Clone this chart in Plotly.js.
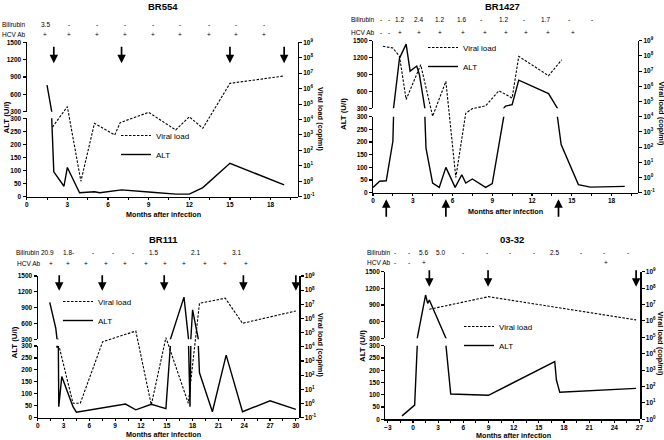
<!DOCTYPE html>
<html><head><meta charset="utf-8">
<script src="https://cdn.plot.ly/plotly-3.0.1.min.js"></script>
<style>html,body{margin:0;padding:0;background:#fff}#chart{width:664px;height:440px}</style>
</head><body><div id="chart"></div>
<script>
// ---------------- DATA ----------------
// BR554
const br554AltMonths = [1.5, 2, 2.75, 3, 3.9, 5, 5.4, 7, 9, 11, 12, 13, 15, 19];
const br554Alt       = [760, 95, 40, 112, 15, 19, 15, 26, 18, 10, 10, 35, 128, 45];
const br554VlMonths  = [1.9, 3, 4, 5, 6.5, 6.9, 9, 11, 12, 13, 15, 19];
const br554Vl        = [3.2e3, 6.8e4, 1, 5.6e3, 1e3, 6.3e3, 2.9e4, 2.1e3, 1.5e4, 2.7e3, 2.2e6, 6.6e6];
const br554ArrowMonths = [2, 7, 15, 19];
const br554BiliMonths = [1.36, 3.13, 5.18, 7.22, 9.3, 11.34, 13.44, 15.48, 17.5];
const br554Bili = ['3.5', '-', '-', '-', '-', '-', '-', '-', '-'];
const br554HcvMonths = [1.36, 3.13, 5.18, 7.22, 9.3, 11.34, 13.44, 15.48, 17.5];
const br554Hcv = ['+', '+', '+', '+', '+', '+', '+', '+', '+'];

// BR1427
const br1427AltMonths = [0, 0.5, 1, 1.5, 2, 2.5, 2.8, 3.3, 3.5, 4, 4.5, 5, 5.5, 6.2, 6.7, 7, 7.5, 8.5, 9, 10, 10.5, 11, 13.25, 14.2, 15.5, 16.4, 19];
const br1427Alt       = [21, 45, 47, 203, 1190, 1440, 960, 1050, 900, 176, 38, 21, 100, 21, 71, 38, 54, 21, 36, 340, 365, 800, 560, 190, 32, 22, 25];
const br1427VlMonths  = [0.75, 1.5, 2.0, 2.5, 3.6, 4.5, 5.5, 6.25, 7.0, 7.5, 8.5, 9.5, 10.5, 11, 13.25, 14.25];
const br1427Vl        = [4.3e8, 3.3e8, 9.3e7, 1.35e5, 2.6e7, 1.07e4, 2.1e6, 1.0, 1.7e4, 3.4e4, 5.2e4, 5.1e5, 1.7e5, 9.3e7, 5.0e6, 5.6e7];
const br1427ArrowMonths = [1, 5.5, 14];
const br1427BiliMonths = [0.58, 1.19, 2.03, 3.47, 4.99, 6.66, 8.18, 9.87, 11.4, 13.0, 14.8, 16.5];
const br1427Bili = ['-', '-', '1.2', '2.4', '1.2', '1.6', '-', '1.2', '-', '1.7', '-', '-'];
const br1427HcvMonths = [0.58, 1.19, 2.03, 3.47, 5.06, 6.78, 8.43, 10.05, 11.57, 13.24, 15.06];
const br1427Hcv = ['-', '-', '+', '+', '+', '+', '+', '+', '+', '+', '+'];

// BR111
const br111AltMonths = [1.4, 2.1, 2.25, 2.4, 2.45, 2.8, 4.1, 4.5, 10.2, 11.4, 13.2, 14.9, 17, 17.7, 18, 18.8, 20.3, 21.9, 23.8, 27, 30];
const br111Alt       = [1000, 510, 296, 298, 46, 172, 46, 23, 57, 33, 56, 38, 1100, 46, 860, 188, 25, 262, 25, 71, 35];
const br111VlMonths  = [2.2, 2.5, 4.1, 4.95, 7.55, 11.4, 13.2, 14.9, 17.5, 18.8, 21.8, 23.8, 30];
const br111Vl        = [1.15e4, 1.0e4, 1.05, 1.05, 2.3e4, 1.3e5, 0.8, 4.5e4, 1.05, 1.2e7, 2.7e7, 4.6e5, 3.4e6];
const br111ArrowMonths = [2.5, 7.5, 14.7, 23.9, 30];
const br111BiliMonths = [1.16, 3.56, 6.47, 8.8, 11.1, 13.5, 18.3, 23.1];
const br111Bili = ['20.9', '1.8-', '-', '-', '-', '1.5', '2.1', '3.1'];
const br111HcvMonths = [1.51, 3.56, 5.62, 7.94, 10.15, 12.55, 14.8, 17.05, 19.45, 21.8, 24.2];
const br111Hcv = ['+', '+', '+', '+', '+', '+', '+', '+', '+', '+', '+'];

// 03-32
const p0332AltMonths = [-1.3, 0.2, 1.5, 1.75, 1.95, 4.5, 9, 16.9, 17.1, 17.5, 26.6];
const p0332Alt       = [14, 58, 1080, 930, 990, 103, 98, 235, 160, 110, 126];
const p0332VlMonths  = [1.95, 9, 26.6];
const p0332Vl        = [5.1e6, 3.0e7, 1.15e6];
const p0332ArrowMonths = [1.95, 8.95, 26.6];
const p0332BiliMonths = [-2.1, -0.44, 1.27, 3.27, 5.98, 8.84, 11.6, 14.4, 16.9, 20.0, 22.8, 25.6];
const p0332Bili = ['-', '-', '5.6', '5.0', '-', '-', '-', '-', '2.5', '-', '-', '-'];
const p0332HcvMonths = [-2.1, -0.44, 1.27, 23.0];
const p0332Hcv = ['-', '-', '+', '+'];

const panelTitles = ['BR554', 'BR1427', 'BR111', '03-32'];
const altTicksLow = [0, 50, 100, 150, 200, 250, 300];
const altTicksHigh = [300, 600, 900, 1200, 1500];
const xTitle = 'Months after infection';
const altTitle = 'ALT (U/l)';
const vlTitle = 'Viral load (cop/ml)';
const legendNames = ['Viral load', 'ALT'];

// ---------------- LAYOUT GEOMETRY (pixels) ----------------
const W = 664, H = 440;
const FONT = 'Liberation Sans, Arial, Helvetica, sans-serif';
const px = v => v / W, py = v => 1 - v / H;

// arrowRef: 'up' = upper ALT axis value; 'paper' = pixel row below the x axis
const geo = [
  {xL: 26.7, xR: 297.7, bottom: 196.7, lowTop: 118.3, upBot: 111.7, top: 42.3, xr: [0, 20], vr: [-1, 9],
   title: [162.5, 7], biliLbl: [0, 24], hcvLbl: [0, 34], altT: [5.5, 118], vlT: [321, 119], xT: [163, 214.5],
   arrowRef: 'up', arrowY: 1137, arrowLen: -18, leg: [116, 121]},
  {xL: 373, xR: 638, bottom: 192.7, lowTop: 116.7, upBot: 108.3, top: 40.7, xr: [0, 20], vr: [-1, 9],
   title: [502, 6], biliLbl: [349.3, 20], hcvLbl: [349.3, 32.3], altT: [344, 114], vlT: [661.5, 113], xT: [505.3, 211.2],
   arrowRef: 'paper', arrowY: 199.3, arrowLen: 19, leg: [423, 33]},
  {xL: 37.7, xR: 299.3, bottom: 417.7, lowTop: 346, upBot: 339.3, top: 276, xr: [0, 30.4], vr: [-1, 9],
   title: [163, 240], biliLbl: [14, 252.7], hcvLbl: [15, 263.3], altT: [13.5, 343], vlT: [321, 345], xT: [163, 434],
   arrowRef: 'up', arrowY: 1221, arrowLen: -17, leg: [58, 287]},
  {xL: 385.3, xR: 640.3, bottom: 419.3, lowTop: 345.7, upBot: 338.3, top: 271.7, xr: [-3.3, 27.1], vr: [0, 9],
   title: [512, 239.3], biliLbl: [365.3, 252], hcvLbl: [365.3, 262.7], altT: [362, 346], vlT: [660.5, 343], xT: [513.7, 435.2],
   arrowRef: 'up', arrowY: 1230, arrowLen: -18, leg: [459, 312]}
];

const panels = [
  {altX: br554AltMonths, alt: br554Alt, vlX: br554VlMonths, vl: br554Vl, arrows: br554ArrowMonths,
   biliX: br554BiliMonths, bili: br554Bili, hcvX: br554HcvMonths, hcv: br554Hcv},
  {altX: br1427AltMonths, alt: br1427Alt, vlX: br1427VlMonths, vl: br1427Vl, arrows: br1427ArrowMonths,
   biliX: br1427BiliMonths, bili: br1427Bili, hcvX: br1427HcvMonths, hcv: br1427Hcv},
  {altX: br111AltMonths, alt: br111Alt, vlX: br111VlMonths, vl: br111Vl, arrows: br111ArrowMonths,
   biliX: br111BiliMonths, bili: br111Bili, hcvX: br111HcvMonths, hcv: br111Hcv},
  {altX: p0332AltMonths, alt: p0332Alt, vlX: p0332VlMonths, vl: p0332Vl, arrows: p0332ArrowMonths,
   biliX: p0332BiliMonths, bili: p0332Bili, hcvX: p0332HcvMonths, hcv: p0332Hcv}
];

const BLACK = '#000';
const tickFont = {family: FONT, size: 6.5, color: BLACK, weight: 'bold'};
const rowFont = {family: FONT, size: 6.5, color: BLACK};
const axisCommon = {showline: true, linecolor: BLACK, linewidth: 1.2, ticks: 'outside', ticklen: 3,
  tickwidth: 1.1, tickcolor: BLACK, showgrid: false, zeroline: false, tickfont: tickFont, fixedrange: true};

const data = [];
const layout = {
  width: W, height: H, margin: {l: 0, r: 0, t: 0, b: 0},
  paper_bgcolor: '#fff', plot_bgcolor: 'rgba(0,0,0,0)', showlegend: true,
  font: {family: FONT, color: BLACK}, annotations: []
};

const sfx = n => (n > 1 ? String(n) : '');

panels.forEach((p, i) => {
  const g = geo[i];
  const xn = i + 1, yl = 3 * i + 1, yu = 3 * i + 2, yr = 3 * i + 3;
  const xid = 'x' + sfx(xn), ylid = 'y' + sfx(yl), yuid = 'y' + sfx(yu), yrid = 'y' + sfx(yr);
  const legId = 'legend' + sfx(i + 1);

  layout['xaxis' + sfx(xn)] = Object.assign({}, axisCommon, {
    domain: [px(g.xL), px(g.xR)], range: g.xr, anchor: ylid, tick0: 0, dtick: 3, ticklen: 2.5,
    ticklabelstandoff: -1,
    minor: {dtick: 1.5, ticks: 'outside', ticklen: 2, tickwidth: 1, tickcolor: BLACK, showgrid: false}
  });
  layout['yaxis' + sfx(yl)] = Object.assign({}, axisCommon, {
    domain: [py(g.bottom), py(g.lowTop)], range: [0, 300], anchor: xid, tickmode: 'array', tickvals: altTicksLow
  });
  layout['yaxis' + sfx(yu)] = Object.assign({}, axisCommon, {
    domain: [py(g.upBot), py(g.top)], range: [300, 1500], anchor: xid, tickmode: 'array', tickvals: altTicksHigh
  });
  const exps = [];
  for (let e = g.vr[0]; e <= g.vr[1]; e++) exps.push(e);
  layout['yaxis' + sfx(yr)] = Object.assign({}, axisCommon, {
    domain: [py(g.bottom), py(g.top)], type: 'log', range: g.vr, anchor: xid, side: 'right',
    tickmode: 'array', tickvals: exps.map(e => Math.pow(10, e)),
    ticktext: exps.map(e => '10<sup>' + e + '</sup>')
  });

  layout[legId] = {
    x: px(g.leg[0]), y: py(g.leg[1]), xanchor: 'left', yanchor: 'top', bgcolor: 'rgba(0,0,0,0)',
    borderwidth: 0, font: {family: FONT, size: 8, color: BLACK}, itemwidth: 30, tracegroupgap: 0, traceorder: 'normal'
  };

  data.push({type: 'scatter', mode: 'lines', x: p.vlX, y: p.vl, xaxis: xid, yaxis: yrid, name: legendNames[0],
    legend: legId, legendrank: 1, line: {color: BLACK, width: 1.1, dash: '2.5px,1.5px'}, hoverinfo: 'skip'});
  data.push({type: 'scatter', mode: 'lines', x: p.altX, y: p.alt, xaxis: xid, yaxis: ylid, name: legendNames[1],
    legend: legId, legendrank: 2, line: {color: BLACK, width: 1.4}, hoverinfo: 'skip'});
  data.push({type: 'scatter', mode: 'lines', x: p.altX, y: p.alt, xaxis: xid, yaxis: yuid, name: legendNames[1],
    showlegend: false, line: {color: BLACK, width: 1.4}, hoverinfo: 'skip'});

  const A = layout.annotations;
  A.push({text: panelTitles[i], x: px(g.title[0]), y: py(g.title[1]), xref: 'paper', yref: 'paper',
    showarrow: false, xanchor: 'center', yanchor: 'middle', font: {family: FONT, size: 9.5, color: BLACK, weight: 'bold'}});
  A.push({text: 'Bilirubin', x: px(g.biliLbl[0]), y: py(g.biliLbl[1]), xref: 'paper', yref: 'paper',
    showarrow: false, xanchor: 'left', yanchor: 'middle', font: rowFont});
  A.push({text: 'HCV Ab', x: px(g.hcvLbl[0]), y: py(g.hcvLbl[1]), xref: 'paper', yref: 'paper',
    showarrow: false, xanchor: 'left', yanchor: 'middle', font: rowFont});
  p.biliX.forEach((m, k) => A.push({text: p.bili[k], x: m, y: py(g.biliLbl[1]), xref: xid, yref: 'paper',
    showarrow: false, xanchor: 'center', yanchor: 'middle', font: rowFont}));
  p.hcvX.forEach((m, k) => A.push({text: p.hcv[k], x: m, y: py(g.hcvLbl[1]), xref: xid, yref: 'paper',
    showarrow: false, xanchor: 'center', yanchor: 'middle', font: rowFont}));
  p.arrows.forEach(m => A.push({text: '', x: m, xref: xid,
    y: g.arrowRef === 'paper' ? py(g.arrowY) : g.arrowY, yref: g.arrowRef === 'paper' ? 'paper' : yuid,
    ax: 0, ay: g.arrowLen, axref: 'pixel', ayref: 'pixel', showarrow: true, arrowhead: 2, arrowsize: 1,
    arrowwidth: 1.7, arrowcolor: BLACK, standoff: 0}));
  A.push({text: altTitle, x: px(g.altT[0]), y: py(g.altT[1]), xref: 'paper', yref: 'paper', textangle: -90,
    showarrow: false, xanchor: 'center', yanchor: 'middle', font: {family: FONT, size: 7.8, color: BLACK, weight: 'bold'}});
  A.push({text: vlTitle, x: px(g.vlT[0]), y: py(g.vlT[1]), xref: 'paper', yref: 'paper', textangle: 90,
    showarrow: false, xanchor: 'center', yanchor: 'middle', font: {family: FONT, size: 7.4, color: BLACK, weight: 'bold'}});
  A.push({text: xTitle, x: px(g.xT[0]), y: py(g.xT[1]), xref: 'paper', yref: 'paper',
    showarrow: false, xanchor: 'center', yanchor: 'middle', font: {family: FONT, size: 7.2, color: BLACK, weight: 'bold'}});
});

Plotly.newPlot('chart', data, layout, {displayModeBar: false, staticPlot: true});
</script></body></html>
